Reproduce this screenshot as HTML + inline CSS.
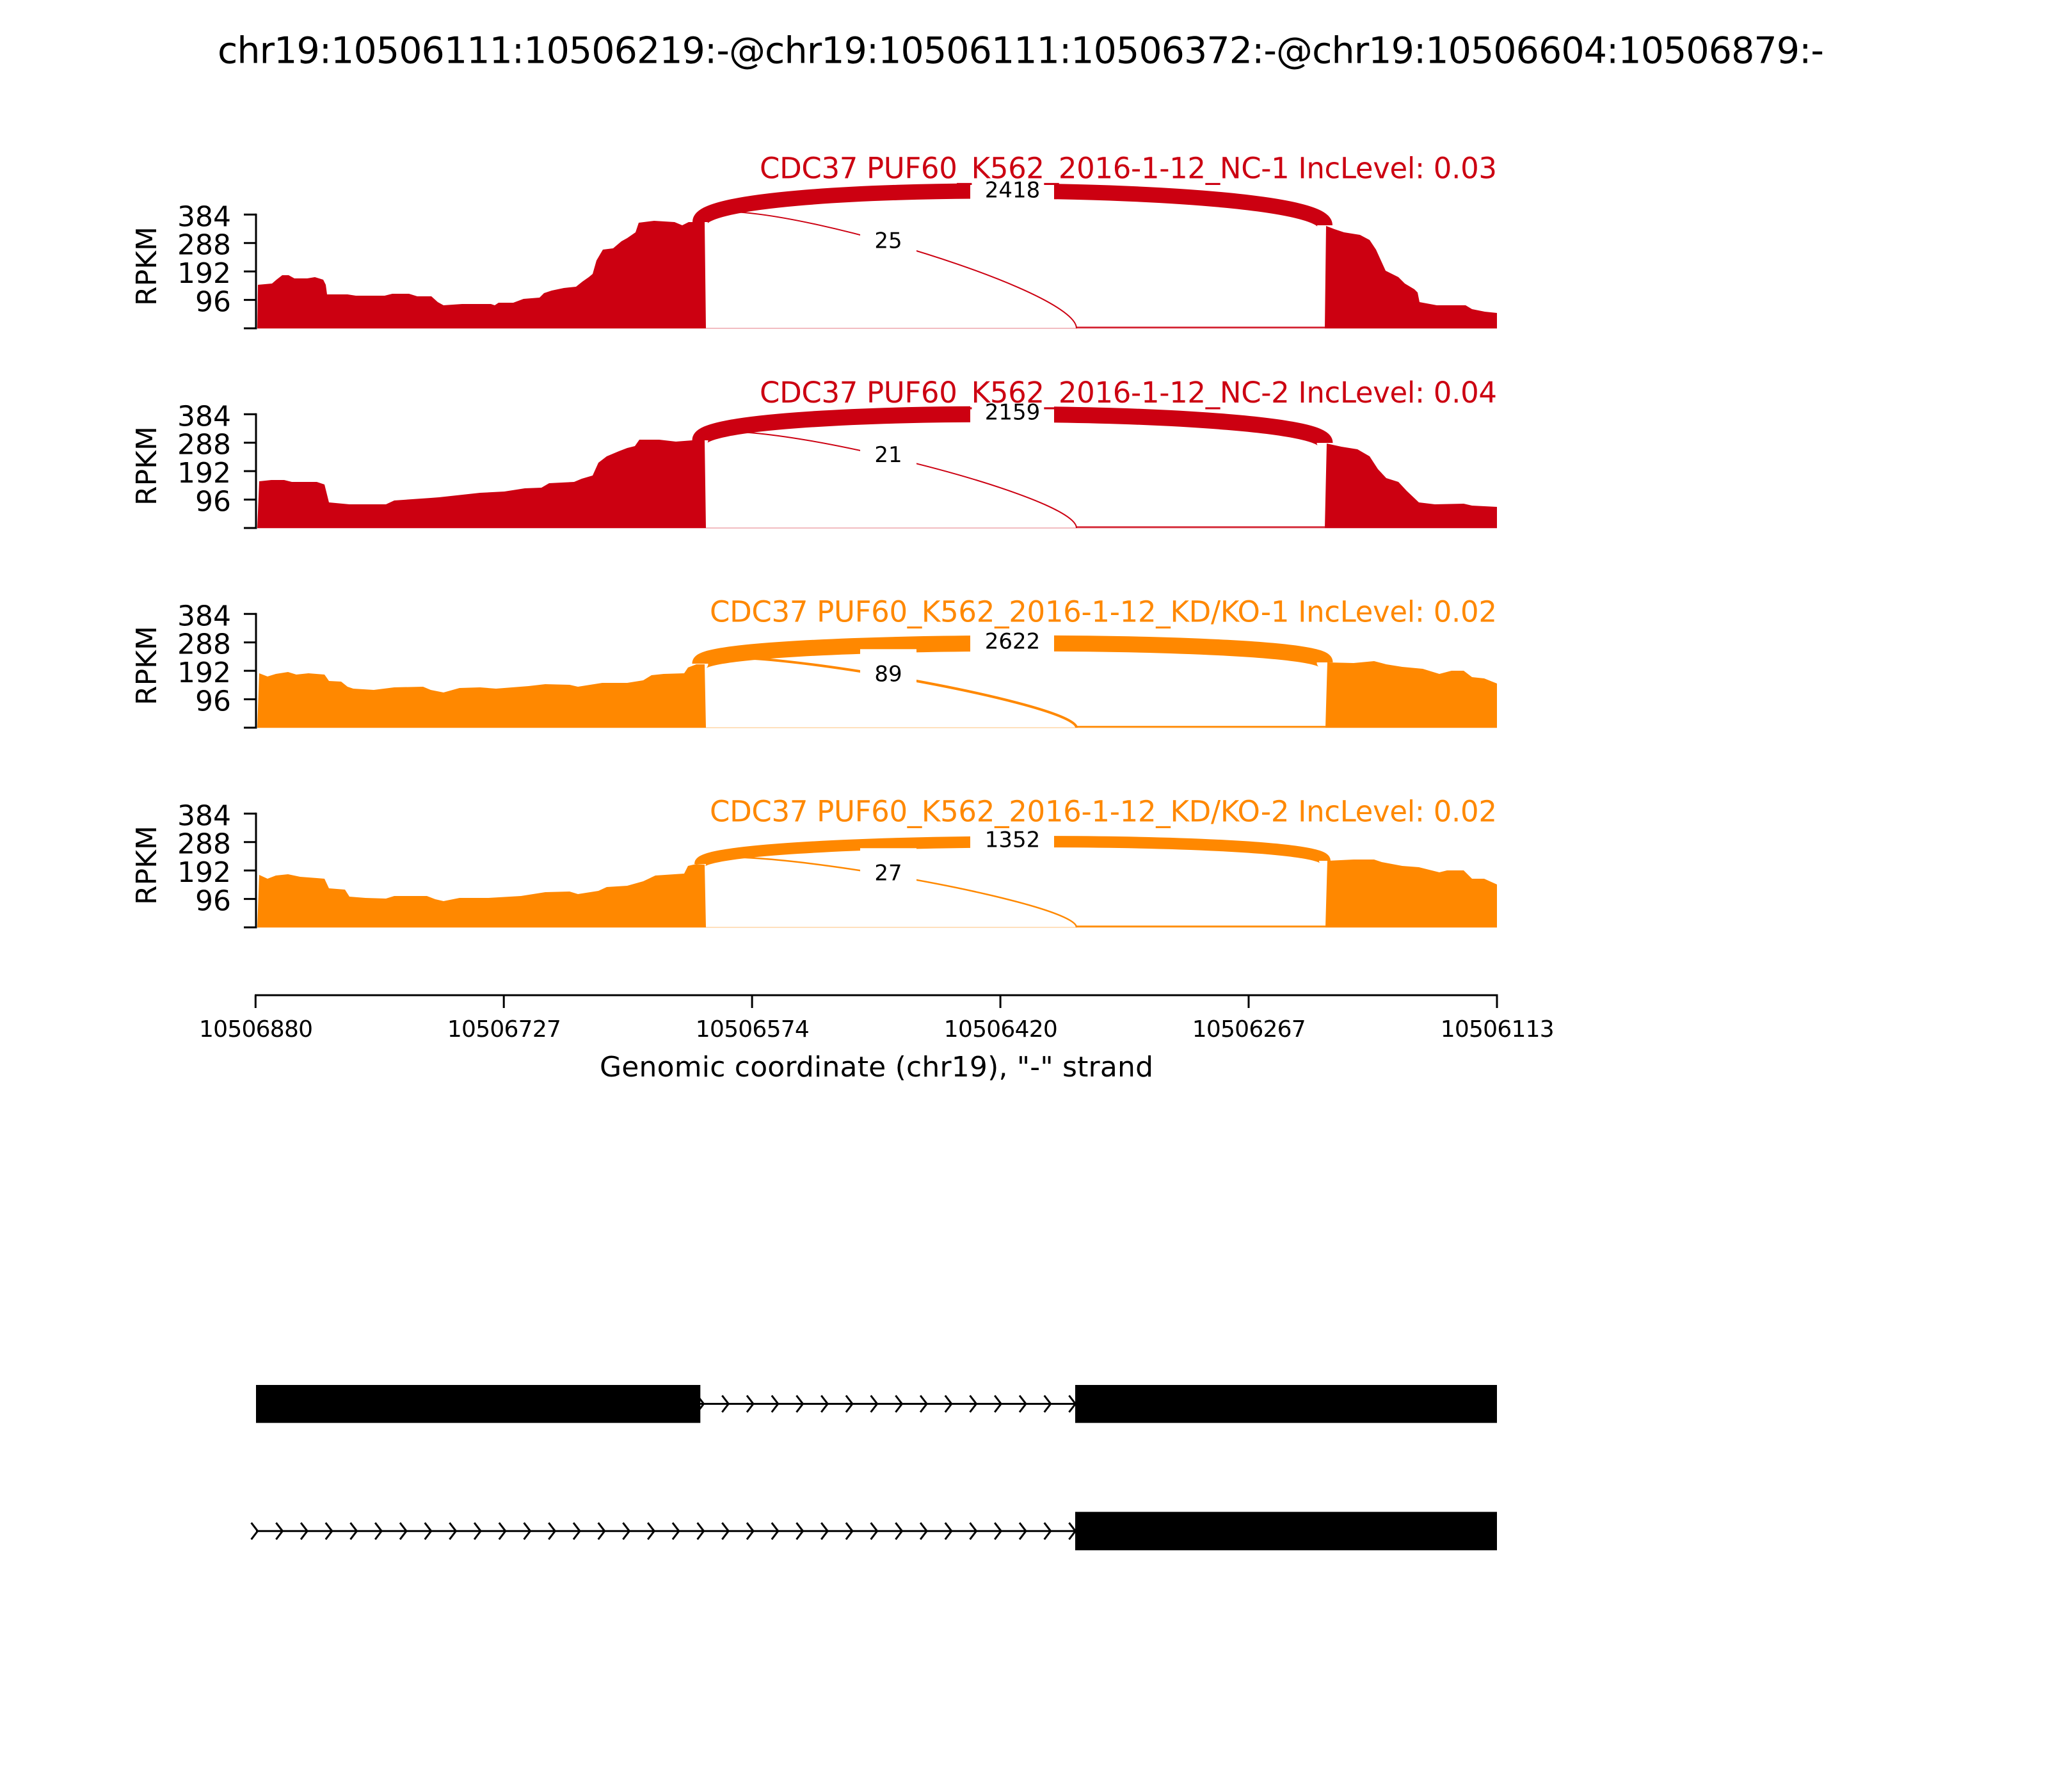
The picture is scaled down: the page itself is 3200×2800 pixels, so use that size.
<!DOCTYPE html>
<html>
<head>
<meta charset="utf-8">
<style>
  html, body { margin: 0; padding: 0; background: #ffffff; }
  svg { display: block; }
  text { font-family: "DejaVu Sans", "Liberation Sans", sans-serif; }
</style>
</head>
<body>
<svg xmlns="http://www.w3.org/2000/svg" width="3200" height="2800" viewBox="0 0 3200 2800">
  <rect x="0" y="0" width="3200" height="2800" fill="#ffffff"/>

  <!-- Main title -->
  <text x="340" y="98.3" font-size="57" textLength="2510" lengthAdjust="spacing" fill="#000">chr19:10506111:10506219:-@chr19:10506111:10506372:-@chr19:10506604:10506879:-</text>

  <!-- ================= PANEL 1 ================= -->
  <g>
    <line x1="402" y1="513" x2="2339" y2="513" stroke="#CC0011" stroke-opacity="0.35" stroke-width="1.5"/>
    <polygon fill="#CC0011" points="402,513 403,445 425,443 432,437 441,430 451,430 460,435 480,435 492,433 505,437 509,445 511,460 543,460 556,462 601,462 613,459 639,459 652,463 674,463 684,472 693,477 722,475 767,475 773,477 779,473 802,473 818,467 843,465 850,458 862,454 881,450 900,448 910,440 920,433 926,428 932,407 942,390 958,388 971,377 980,372 993,363 998,348 1022,345 1054,347 1066,352 1076,347 1101,347 1103,513"/>
    <polygon fill="#CC0011" points="2070,513 2072,353 2085,358 2100,363 2125,367 2140,375 2150,390 2160,412 2165,423 2185,433 2195,443 2210,452 2215,457 2218,472 2245,477 2290,477 2300,483 2320,487 2339,489 2339,513"/>
    <line x1="1682" y1="511.5" x2="2070" y2="511.5" stroke="#CC0011" stroke-width="2"/>
    <path d="M1094,347 C1094,279 2070,284 2070,352" fill="none" stroke="#CC0011" stroke-width="24"/>
    <path d="M1094,347 C1094,279 1682,445 1682,513" fill="none" stroke="#CC0011" stroke-width="2"/>
    <rect x="1516" y="258" width="131" height="84" fill="#fff"/>
    <rect x="1344" y="337" width="88" height="84" fill="#fff"/>
    <text x="2339" y="278.3" font-size="45" text-anchor="end" fill="#CC0011" textLength="1152" lengthAdjust="spacing">CDC37 PUF60_K562_2016-1-12_NC-1 IncLevel: 0.03</text>
    <text x="1582" y="308.4" font-size="34" text-anchor="middle" fill="#000">2418</text>
    <text x="1388" y="387.4" font-size="34" text-anchor="middle" fill="#000">25</text>
    <!-- axis -->
    <line x1="400" y1="333.8" x2="400" y2="514.5" stroke="#000" stroke-width="3"/>
    <g stroke="#000" stroke-width="3">
      <line x1="381" y1="513" x2="400" y2="513"/>
      <line x1="381" y1="468.6" x2="400" y2="468.6"/>
      <line x1="381" y1="424.15" x2="400" y2="424.15"/>
      <line x1="381" y1="379.7" x2="400" y2="379.7"/>
      <line x1="381" y1="335.3" x2="400" y2="335.3"/>
    </g>
    <g font-size="44" text-anchor="end" fill="#000">
      <text x="361" y="486.6">96</text>
      <text x="361" y="442.15">192</text>
      <text x="361" y="397.7">288</text>
      <text x="361" y="353.3">384</text>
    </g>
    <text transform="translate(244,416) rotate(-90)" font-size="44" text-anchor="middle" fill="#000">RPKM</text>
  </g>

  <!-- ================= PANEL 2 ================= -->
  <g>
    <line x1="402" y1="825" x2="2339" y2="825" stroke="#CC0011" stroke-opacity="0.35" stroke-width="1.5"/>
    <polygon fill="#CC0011" points="402,825 405,752 424,750 444,750 456,753 495,753 507,757 514,785 546,788 603,788 616,782 673,778 686,777 750,770 788,768 820,763 846,762 858,755 897,753 909,748 926,743 935,723 948,713 967,705 980,700 992,697 999,687 1030,687 1056,690 1082,688 1101,688 1103,825"/>
    <polygon fill="#CC0011" points="2070,825 2073,693 2096,698 2121,702 2140,713 2153,733 2166,747 2185,753 2198,767 2217,785 2242,788 2287,787 2300,790 2339,792 2339,825"/>
    <line x1="1682" y1="823.5" x2="2070" y2="823.5" stroke="#CC0011" stroke-width="2"/>
    <path d="M1094,688 C1094,631 2070,635 2070,692" fill="none" stroke="#CC0011" stroke-width="25"/>
    <path d="M1094,688 C1094,631 1682,768 1682,825" fill="none" stroke="#CC0011" stroke-width="2"/>
    <rect x="1516" y="605.3" width="131" height="84" fill="#fff"/>
    <rect x="1344" y="671.8" width="88" height="84" fill="#fff"/>
    <text x="2339" y="629" font-size="45" text-anchor="end" fill="#CC0011" textLength="1152" lengthAdjust="spacing">CDC37 PUF60_K562_2016-1-12_NC-2 IncLevel: 0.04</text>
    <text x="1582" y="655.7" font-size="34" text-anchor="middle" fill="#000">2159</text>
    <text x="1388" y="722.2" font-size="34" text-anchor="middle" fill="#000">21</text>
    <line x1="400" y1="645.8" x2="400" y2="826.5" stroke="#000" stroke-width="3"/>
    <g stroke="#000" stroke-width="3">
      <line x1="381" y1="825" x2="400" y2="825"/>
      <line x1="381" y1="780.6" x2="400" y2="780.6"/>
      <line x1="381" y1="736.15" x2="400" y2="736.15"/>
      <line x1="381" y1="691.7" x2="400" y2="691.7"/>
      <line x1="381" y1="647.3" x2="400" y2="647.3"/>
    </g>
    <g font-size="44" text-anchor="end" fill="#000">
      <text x="361" y="798.6">96</text>
      <text x="361" y="754.15">192</text>
      <text x="361" y="709.7">288</text>
      <text x="361" y="665.3">384</text>
    </g>
    <text transform="translate(244,728) rotate(-90)" font-size="44" text-anchor="middle" fill="#000">RPKM</text>
  </g>

  <!-- ================= PANEL 3 ================= -->
  <g>
    <line x1="402" y1="1137" x2="2339" y2="1137" stroke="#FF8800" stroke-opacity="0.35" stroke-width="1.5"/>
    <polygon fill="#FF8800" points="402,1137 405,1052 418,1057 431,1053 450,1050 463,1054 482,1052 507,1054 514,1064 533,1065 543,1073 552,1076 584,1078 616,1074 661,1073 673,1078 693,1082 718,1075 750,1074 775,1076 826,1072 852,1069 890,1070 903,1073 941,1067 980,1067 1005,1063 1018,1055 1037,1053 1069,1052 1075,1043 1088,1038 1101,1038 1103,1137"/>
    <polygon fill="#FF8800" points="2071,1137 2074,1035 2115,1036 2147,1033 2166,1038 2191,1042 2223,1045 2249,1053 2268,1048 2287,1048 2300,1058 2319,1060 2339,1068 2339,1137"/>
    <line x1="1682" y1="1135.5" x2="2071" y2="1135.5" stroke="#FF8800" stroke-width="2.5"/>
    <path d="M1094,1037 C1094,996 2070,994 2070,1035" fill="none" stroke="#FF8800" stroke-width="25"/>
    <path d="M1094,1037 C1094,996 1682,1096 1682,1137" fill="none" stroke="#FF8800" stroke-width="4"/>
    <rect x="1516" y="963.3" width="131" height="84" fill="#fff"/>
    <rect x="1344" y="1014.3" width="88" height="84" fill="#fff"/>
    <text x="2339" y="971.5" font-size="45" text-anchor="end" fill="#FF8800" textLength="1230" lengthAdjust="spacing">CDC37 PUF60_K562_2016-1-12_KD/KO-1 IncLevel: 0.02</text>
    <text x="1582" y="1013.6" font-size="34" text-anchor="middle" fill="#000">2622</text>
    <text x="1388" y="1064.6" font-size="34" text-anchor="middle" fill="#000">89</text>
    <line x1="400" y1="957.8" x2="400" y2="1138.5" stroke="#000" stroke-width="3"/>
    <g stroke="#000" stroke-width="3">
      <line x1="381" y1="1137" x2="400" y2="1137"/>
      <line x1="381" y1="1092.6" x2="400" y2="1092.6"/>
      <line x1="381" y1="1048.15" x2="400" y2="1048.15"/>
      <line x1="381" y1="1003.7" x2="400" y2="1003.7"/>
      <line x1="381" y1="959.3" x2="400" y2="959.3"/>
    </g>
    <g font-size="44" text-anchor="end" fill="#000">
      <text x="361" y="1110.6">96</text>
      <text x="361" y="1066.15">192</text>
      <text x="361" y="1021.7">288</text>
      <text x="361" y="977.3">384</text>
    </g>
    <text transform="translate(244,1040) rotate(-90)" font-size="44" text-anchor="middle" fill="#000">RPKM</text>
  </g>

  <!-- ================= PANEL 4 ================= -->
  <g>
    <line x1="402" y1="1449" x2="2339" y2="1449" stroke="#FF8800" stroke-opacity="0.35" stroke-width="1.5"/>
    <polygon fill="#FF8800" points="402,1449 405,1367 418,1373 431,1368 450,1366 469,1370 495,1372 507,1373 514,1388 539,1390 546,1401 571,1403 603,1404 616,1400 667,1400 680,1405 693,1408 718,1403 763,1403 814,1400 852,1394 890,1393 903,1397 935,1392 948,1386 980,1384 1005,1377 1024,1368 1069,1365 1075,1353 1088,1350 1101,1351 1103,1449"/>
    <polygon fill="#FF8800" points="2071,1449 2074,1345 2115,1343 2147,1343 2159,1347 2191,1353 2217,1355 2249,1363 2261,1360 2287,1360 2300,1373 2319,1373 2339,1382 2339,1449"/>
    <line x1="1682" y1="1447.5" x2="2071" y2="1447.5" stroke="#FF8800" stroke-width="2.5"/>
    <path d="M1094,1350 C1094,1307 2070,1302 2070,1345" fill="none" stroke="#FF8800" stroke-width="18"/>
    <path d="M1094,1350 C1094,1307 1682,1406 1682,1449" fill="none" stroke="#FF8800" stroke-width="2.5"/>
    <rect x="1516" y="1273.3" width="131" height="84" fill="#fff"/>
    <rect x="1344" y="1325.3" width="88" height="84" fill="#fff"/>
    <text x="2339" y="1283.3" font-size="45" text-anchor="end" fill="#FF8800" textLength="1230" lengthAdjust="spacing">CDC37 PUF60_K562_2016-1-12_KD/KO-2 IncLevel: 0.02</text>
    <text x="1582" y="1323.6" font-size="34" text-anchor="middle" fill="#000">1352</text>
    <text x="1388" y="1375.6" font-size="34" text-anchor="middle" fill="#000">27</text>
    <line x1="400" y1="1269.8" x2="400" y2="1450.5" stroke="#000" stroke-width="3"/>
    <g stroke="#000" stroke-width="3">
      <line x1="381" y1="1449" x2="400" y2="1449"/>
      <line x1="381" y1="1404.6" x2="400" y2="1404.6"/>
      <line x1="381" y1="1360.15" x2="400" y2="1360.15"/>
      <line x1="381" y1="1315.7" x2="400" y2="1315.7"/>
      <line x1="381" y1="1271.3" x2="400" y2="1271.3"/>
    </g>
    <g font-size="44" text-anchor="end" fill="#000">
      <text x="361" y="1422.6">96</text>
      <text x="361" y="1378.15">192</text>
      <text x="361" y="1333.7">288</text>
      <text x="361" y="1289.3">384</text>
    </g>
    <text transform="translate(244,1352) rotate(-90)" font-size="44" text-anchor="middle" fill="#000">RPKM</text>
  </g>

  <!-- ================= X AXIS ================= -->
  <g>
    <line x1="398" y1="1555" x2="2340.5" y2="1555" stroke="#000" stroke-width="3"/>
    <g stroke="#000" stroke-width="3">
      <line x1="399.3" y1="1555" x2="399.3" y2="1575"/>
      <line x1="787.2" y1="1555" x2="787.2" y2="1575"/>
      <line x1="1175.1" y1="1555" x2="1175.1" y2="1575"/>
      <line x1="1563.1" y1="1555" x2="1563.1" y2="1575"/>
      <line x1="1951" y1="1555" x2="1951" y2="1575"/>
      <line x1="2339" y1="1555" x2="2339" y2="1575"/>
    </g>
    <g font-size="36" text-anchor="middle" fill="#000">
      <text x="400" y="1620" textLength="178" lengthAdjust="spacing">10506880</text>
      <text x="787.9" y="1620" textLength="178" lengthAdjust="spacing">10506727</text>
      <text x="1175.8" y="1620" textLength="178" lengthAdjust="spacing">10506574</text>
      <text x="1563.8" y="1620" textLength="178" lengthAdjust="spacing">10506420</text>
      <text x="1951.7" y="1620" textLength="178" lengthAdjust="spacing">10506267</text>
      <text x="2339.7" y="1620" textLength="178" lengthAdjust="spacing">10506113</text>
    </g>
    <text x="1369.5" y="1682" font-size="44" text-anchor="middle" fill="#000" textLength="865" lengthAdjust="spacing">Genomic coordinate (chr19), "-" strand</text>
  </g>

  <!-- ================= GENE STRUCTURE ================= -->
  <g>
    <!-- transcript 1 -->
    <line x1="1094" y1="2193.5" x2="1680" y2="2193.5" stroke="#000" stroke-width="3"/>
    <path fill="none" stroke="#000" stroke-width="3" d="
      M1670.4,2180.5L1680.4,2193.5L1670.4,2206.5
      M1631.7,2180.5L1641.7,2193.5L1631.7,2206.5
      M1593,2180.5L1603,2193.5L1593,2206.5
      M1554.2,2180.5L1564.2,2193.5L1554.2,2206.5
      M1515.5,2180.5L1525.5,2193.5L1515.5,2206.5
      M1476.8,2180.5L1486.8,2193.5L1476.8,2206.5
      M1438.1,2180.5L1448.1,2193.5L1438.1,2206.5
      M1399.4,2180.5L1409.4,2193.5L1399.4,2206.5
      M1360.6,2180.5L1370.6,2193.5L1360.6,2206.5
      M1321.9,2180.5L1331.9,2193.5L1321.9,2206.5
      M1283.2,2180.5L1293.2,2193.5L1283.2,2206.5
      M1244.5,2180.5L1254.5,2193.5L1244.5,2206.5
      M1205.8,2180.5L1215.8,2193.5L1205.8,2206.5
      M1167,2180.5L1177,2193.5L1167,2206.5
      M1128.3,2180.5L1138.3,2193.5L1128.3,2206.5
      M1089.6,2180.5L1099.6,2193.5L1089.6,2206.5"/>
    <rect x="400" y="2164" width="694.3" height="59.3" fill="#000"/>
    <rect x="1680" y="2164" width="659" height="59.3" fill="#000"/>

    <!-- transcript 2 -->
    <line x1="400" y1="2392.3" x2="1680" y2="2392.3" stroke="#000" stroke-width="3"/>
    <path fill="none" stroke="#000" stroke-width="3" d="
      M1670.4,2379.3L1680.4,2392.3L1670.4,2405.3
      M1631.7,2379.3L1641.7,2392.3L1631.7,2405.3
      M1593,2379.3L1603,2392.3L1593,2405.3
      M1554.2,2379.3L1564.2,2392.3L1554.2,2405.3
      M1515.5,2379.3L1525.5,2392.3L1515.5,2405.3
      M1476.8,2379.3L1486.8,2392.3L1476.8,2405.3
      M1438.1,2379.3L1448.1,2392.3L1438.1,2405.3
      M1399.4,2379.3L1409.4,2392.3L1399.4,2405.3
      M1360.6,2379.3L1370.6,2392.3L1360.6,2405.3
      M1321.9,2379.3L1331.9,2392.3L1321.9,2405.3
      M1283.2,2379.3L1293.2,2392.3L1283.2,2405.3
      M1244.5,2379.3L1254.5,2392.3L1244.5,2405.3
      M1205.8,2379.3L1215.8,2392.3L1205.8,2405.3
      M1167,2379.3L1177,2392.3L1167,2405.3
      M1128.3,2379.3L1138.3,2392.3L1128.3,2405.3
      M1089.6,2379.3L1099.6,2392.3L1089.6,2405.3
      M1050.9,2379.3L1060.9,2392.3L1050.9,2405.3
      M1012.2,2379.3L1022.2,2392.3L1012.2,2405.3
      M973.4,2379.3L983.4,2392.3L973.4,2405.3
      M934.7,2379.3L944.7,2392.3L934.7,2405.3
      M896,2379.3L906,2392.3L896,2405.3
      M857.3,2379.3L867.3,2392.3L857.3,2405.3
      M818.6,2379.3L828.6,2392.3L818.6,2405.3
      M779.8,2379.3L789.8,2392.3L779.8,2405.3
      M741.1,2379.3L751.1,2392.3L741.1,2405.3
      M702.4,2379.3L712.4,2392.3L702.4,2405.3
      M663.7,2379.3L673.7,2392.3L663.7,2405.3
      M625,2379.3L635,2392.3L625,2405.3
      M586.2,2379.3L596.2,2392.3L586.2,2405.3
      M547.5,2379.3L557.5,2392.3L547.5,2405.3
      M508.8,2379.3L518.8,2392.3L508.8,2405.3
      M470.1,2379.3L480.1,2392.3L470.1,2405.3
      M431.4,2379.3L441.4,2392.3L431.4,2405.3
      M392.6,2379.3L402.6,2392.3L392.6,2405.3"/>
    <rect x="1680" y="2362.3" width="659" height="60" fill="#000"/>
  </g>
</svg>
</body>
</html>
